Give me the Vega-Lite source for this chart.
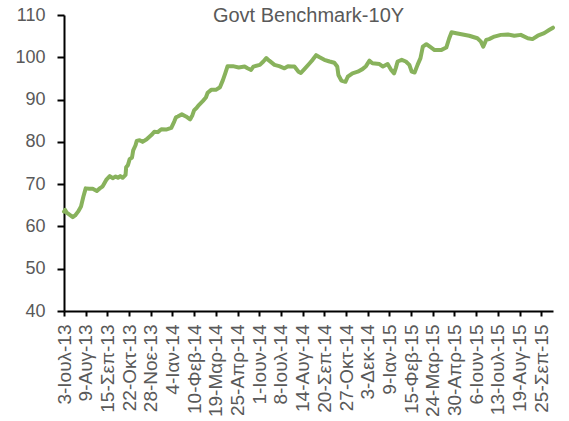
{
  "$schema": "https://vega.github.io/schema/vega-lite/v6.json",
  "width": 489,
  "height": 296,
  "autosize": {"type": "none"},
  "padding": {"left": 64, "top": 15, "right": 16, "bottom": 110},
  "background": "white",
  "title": {
    "text": "Govt Benchmark-10Y",
    "font": "Liberation Sans",
    "fontSize": 20,
    "fontWeight": "normal",
    "color": "#595959",
    "anchor": "middle",
    "frame": "group",
    "offset": 0,
    "baseline": "alphabetic",
    "dy": 36
  },
  "config": {
    "view": {"stroke": null},
    "axis": {"grid": false, "labelFont": "Liberation Sans", "labelColor": "#595959", "domainColor": "#000000", "tickColor": "#000000", "domainWidth": 2, "tickWidth": 2, "title": null}
  },
  "data": {
    "values": [
      {"date": "2013-07-03", "value": 63.5},
      {"date": "2013-07-05", "value": 63.9},
      {"date": "2013-07-08", "value": 63.2},
      {"date": "2013-07-10", "value": 63.0},
      {"date": "2013-07-18", "value": 62.2},
      {"date": "2013-07-22", "value": 62.6},
      {"date": "2013-07-27", "value": 63.5},
      {"date": "2013-08-01", "value": 64.7},
      {"date": "2013-08-05", "value": 67.0},
      {"date": "2013-08-09", "value": 69.0},
      {"date": "2013-08-15", "value": 68.9},
      {"date": "2013-08-21", "value": 68.9},
      {"date": "2013-08-28", "value": 68.4},
      {"date": "2013-09-02", "value": 69.0},
      {"date": "2013-09-07", "value": 69.5},
      {"date": "2013-09-13", "value": 71.0},
      {"date": "2013-09-19", "value": 71.9},
      {"date": "2013-09-24", "value": 71.4},
      {"date": "2013-09-29", "value": 71.8},
      {"date": "2013-10-03", "value": 71.5},
      {"date": "2013-10-07", "value": 71.9},
      {"date": "2013-10-11", "value": 71.5},
      {"date": "2013-10-16", "value": 72.2},
      {"date": "2013-10-17", "value": 74.0},
      {"date": "2013-10-20", "value": 74.5},
      {"date": "2013-10-23", "value": 75.9},
      {"date": "2013-10-27", "value": 76.3},
      {"date": "2013-10-29", "value": 78.0},
      {"date": "2013-11-02", "value": 79.2},
      {"date": "2013-11-04", "value": 80.2},
      {"date": "2013-11-09", "value": 80.4},
      {"date": "2013-11-14", "value": 80.0},
      {"date": "2013-11-21", "value": 80.6},
      {"date": "2013-11-29", "value": 81.6},
      {"date": "2013-12-04", "value": 82.4},
      {"date": "2013-12-10", "value": 82.3},
      {"date": "2013-12-16", "value": 83.0},
      {"date": "2013-12-24", "value": 82.9},
      {"date": "2014-01-02", "value": 83.3},
      {"date": "2014-01-07", "value": 84.8},
      {"date": "2014-01-10", "value": 85.8},
      {"date": "2014-01-13", "value": 86.0},
      {"date": "2014-01-20", "value": 86.5},
      {"date": "2014-01-27", "value": 86.0},
      {"date": "2014-02-03", "value": 85.3},
      {"date": "2014-02-07", "value": 86.3},
      {"date": "2014-02-10", "value": 87.5},
      {"date": "2014-02-14", "value": 88.0},
      {"date": "2014-02-18", "value": 88.7},
      {"date": "2014-02-25", "value": 89.7},
      {"date": "2014-03-02", "value": 90.5},
      {"date": "2014-03-05", "value": 91.6},
      {"date": "2014-03-11", "value": 92.3},
      {"date": "2014-03-19", "value": 92.3},
      {"date": "2014-03-26", "value": 92.9},
      {"date": "2014-03-31", "value": 94.6},
      {"date": "2014-04-04", "value": 96.2},
      {"date": "2014-04-08", "value": 97.9},
      {"date": "2014-04-17", "value": 97.9},
      {"date": "2014-04-27", "value": 97.6},
      {"date": "2014-05-07", "value": 97.8},
      {"date": "2014-05-12", "value": 97.4},
      {"date": "2014-05-18", "value": 97.0},
      {"date": "2014-05-22", "value": 97.8},
      {"date": "2014-06-02", "value": 98.2},
      {"date": "2014-06-08", "value": 99.0},
      {"date": "2014-06-13", "value": 99.8},
      {"date": "2014-06-18", "value": 99.2},
      {"date": "2014-06-27", "value": 98.2},
      {"date": "2014-07-05", "value": 97.9},
      {"date": "2014-07-14", "value": 97.4},
      {"date": "2014-07-20", "value": 97.9},
      {"date": "2014-07-26", "value": 97.8},
      {"date": "2014-07-31", "value": 97.8},
      {"date": "2014-08-07", "value": 96.6},
      {"date": "2014-08-11", "value": 96.3},
      {"date": "2014-08-17", "value": 97.2},
      {"date": "2014-08-26", "value": 98.6},
      {"date": "2014-08-31", "value": 99.4},
      {"date": "2014-09-06", "value": 100.5},
      {"date": "2014-09-12", "value": 100.0},
      {"date": "2014-09-20", "value": 99.4},
      {"date": "2014-09-29", "value": 99.0},
      {"date": "2014-10-07", "value": 98.7},
      {"date": "2014-10-12", "value": 97.8},
      {"date": "2014-10-14", "value": 95.8},
      {"date": "2014-10-19", "value": 94.5},
      {"date": "2014-10-26", "value": 94.2},
      {"date": "2014-10-30", "value": 95.4},
      {"date": "2014-11-07", "value": 96.2},
      {"date": "2014-11-16", "value": 96.6},
      {"date": "2014-11-24", "value": 97.2},
      {"date": "2014-11-30", "value": 97.9},
      {"date": "2014-12-06", "value": 99.2},
      {"date": "2014-12-11", "value": 98.6},
      {"date": "2014-12-23", "value": 98.4},
      {"date": "2014-12-29", "value": 97.8},
      {"date": "2015-01-06", "value": 98.4},
      {"date": "2015-01-12", "value": 97.0},
      {"date": "2015-01-17", "value": 96.2},
      {"date": "2015-01-20", "value": 97.5},
      {"date": "2015-01-23", "value": 99.0},
      {"date": "2015-01-30", "value": 99.4},
      {"date": "2015-02-06", "value": 99.0},
      {"date": "2015-02-12", "value": 98.2},
      {"date": "2015-02-16", "value": 96.6},
      {"date": "2015-02-21", "value": 96.4},
      {"date": "2015-02-26", "value": 98.2},
      {"date": "2015-03-03", "value": 99.8},
      {"date": "2015-03-07", "value": 102.5},
      {"date": "2015-03-13", "value": 103.1},
      {"date": "2015-03-19", "value": 102.5},
      {"date": "2015-03-27", "value": 101.7},
      {"date": "2015-04-07", "value": 101.7},
      {"date": "2015-04-16", "value": 102.3},
      {"date": "2015-04-21", "value": 104.5},
      {"date": "2015-04-25", "value": 105.9},
      {"date": "2015-05-03", "value": 105.7},
      {"date": "2015-05-14", "value": 105.4},
      {"date": "2015-05-25", "value": 105.1},
      {"date": "2015-06-08", "value": 104.5},
      {"date": "2015-06-14", "value": 103.7},
      {"date": "2015-06-18", "value": 102.5},
      {"date": "2015-06-23", "value": 104.1},
      {"date": "2015-06-28", "value": 104.3},
      {"date": "2015-07-07", "value": 104.9},
      {"date": "2015-07-18", "value": 105.3},
      {"date": "2015-07-30", "value": 105.4},
      {"date": "2015-08-10", "value": 105.1},
      {"date": "2015-08-21", "value": 105.3},
      {"date": "2015-09-02", "value": 104.5},
      {"date": "2015-09-10", "value": 104.3},
      {"date": "2015-09-19", "value": 105.1},
      {"date": "2015-09-30", "value": 105.7},
      {"date": "2015-10-09", "value": 106.5},
      {"date": "2015-10-15", "value": 107.0}
    ]
  },
  "mark": {"type": "line", "color": "#88b25c", "strokeWidth": 4, "strokeJoin": "round", "strokeCap": "round"},
  "encoding": {
    "x": {
      "field": "date",
      "type": "temporal",
      "scale": {
        "type": "utc",
        "domain": [
          {"year": 2013, "month": 7, "date": 3, "utc": true},
          {"year": 2015, "month": 10, "date": 15, "utc": true}
        ]
      },
      "axis": {
        "values": [
          {"year": 2013, "month": 7, "date": 3, "utc": true},
          {"year": 2013, "month": 8, "date": 9, "utc": true},
          {"year": 2013, "month": 9, "date": 15, "utc": true},
          {"year": 2013, "month": 10, "date": 22, "utc": true},
          {"year": 2013, "month": 11, "date": 28, "utc": true},
          {"year": 2014, "month": 1, "date": 4, "utc": true},
          {"year": 2014, "month": 2, "date": 10, "utc": true},
          {"year": 2014, "month": 3, "date": 19, "utc": true},
          {"year": 2014, "month": 4, "date": 25, "utc": true},
          {"year": 2014, "month": 6, "date": 1, "utc": true},
          {"year": 2014, "month": 7, "date": 8, "utc": true},
          {"year": 2014, "month": 8, "date": 14, "utc": true},
          {"year": 2014, "month": 9, "date": 20, "utc": true},
          {"year": 2014, "month": 10, "date": 27, "utc": true},
          {"year": 2014, "month": 12, "date": 3, "utc": true},
          {"year": 2015, "month": 1, "date": 9, "utc": true},
          {"year": 2015, "month": 2, "date": 15, "utc": true},
          {"year": 2015, "month": 3, "date": 24, "utc": true},
          {"year": 2015, "month": 4, "date": 30, "utc": true},
          {"year": 2015, "month": 6, "date": 6, "utc": true},
          {"year": 2015, "month": 7, "date": 13, "utc": true},
          {"year": 2015, "month": 8, "date": 19, "utc": true},
          {"year": 2015, "month": 9, "date": 25, "utc": true}
        ],
        "labelExpr": "utcdate(datum.value) + '-' + ['Ιαν','Φεβ','Μαρ','Απρ','Μαΐ','Ιουν','Ιουλ','Αυγ','Σεπ','Οκτ','Νοε','Δεκ'][utcmonth(datum.value)] + '-' + utcFormat(datum.value, '%y')",
        "labelAngle": -90,
        "labelAlign": "right",
        "labelBaseline": "middle",
        "labelFontSize": 19,
        "labelPadding": 8,
        "tickSize": 5,
        "labelOverlap": false,
        "labelBound": false,
        "labelFlush": false
      }
    },
    "y": {
      "field": "value",
      "type": "quantitative",
      "scale": {"domain": [40, 110], "nice": false, "zero": false},
      "axis": {
        "values": [40, 50, 60, 70, 80, 90, 100, 110],
        "labelFontSize": 18,
        "labelPadding": 12,
        "tickSize": 7,
        "labelFlush": false
      }
    }
  }
}
